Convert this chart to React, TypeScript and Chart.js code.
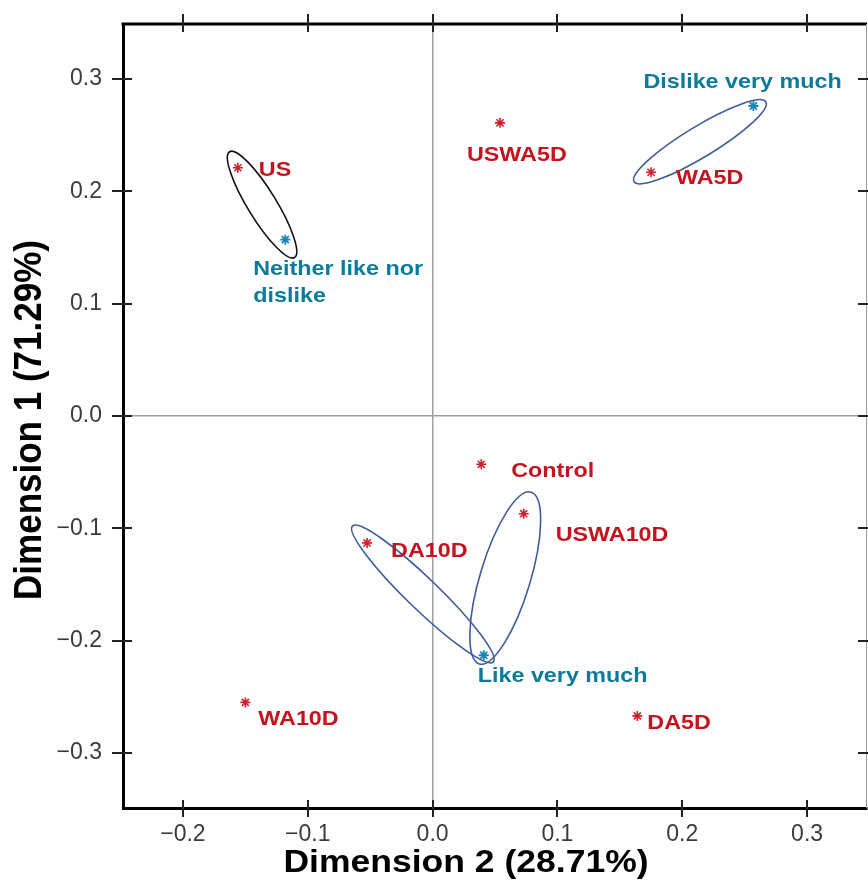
import React, { useEffect, useRef } from 'react';
import { Chart, registerables } from 'chart.js';

Chart.register(...registerables);

// ---- Data ----
const treatmentNames = ['US', 'USWA5D', 'WA5D', 'Control', 'USWA10D', 'DA10D', 'WA10D', 'DA5D'];
const treatmentDim2 = [-0.156, 0.054, 0.175, 0.039, 0.073, -0.0525, -0.150, 0.164];
const treatmentDim1 = [0.221, 0.261, 0.217, -0.043, -0.087, -0.113, -0.255, -0.267];

const likingNames = ['Neither like nor dislike', 'Dislike very much', 'Like very much'];
const likingDim2 = [-0.118, 0.257, 0.041];
const likingDim1 = [0.157, 0.276, -0.213];

// confidence ellipses: end points (Dim2, Dim1) of the major axis and minor/major ratio
const ellipseStartDim2 = [-0.1626, 0.1614, -0.0642, 0.0790];
const ellipseStartDim1 = [0.2353, 0.2086, -0.0980, -0.0678];
const ellipseEndDim2 = [-0.1106, 0.2670, 0.0486, 0.0374];
const ellipseEndDim1 = [0.1411, 0.2797, -0.2189, -0.2207];
const ellipseRatio = [0.23, 0.2, 0.16, 0.28];

const xTickValues = [-0.2, -0.1, 0.0, 0.1, 0.2, 0.3];
const yTickValues = [-0.3, -0.2, -0.1, 0.0, 0.1, 0.2, 0.3];
const xTitle = 'Dimension 2 (28.71%)';
const yTitle = 'Dimension 1 (71.29%)';

// ---- Styles ----
const RED = '#c4121f';
const RED_PT = '#d02030';
const TEAL = '#0b7a9b';
const TEAL_PT = '#1886b0';
const ELLIPSE_COLORS = ['#111111', '#3d5c9c', '#3d5c9c', '#3d5c9c'];
const FONT = "'Liberation Sans', Arial, sans-serif";
const SX = 1.11;

const treatmentOffsets: [number, number][] = [
  [21, 2], [-33, 32], [25, 6], [30, 7], [32, 21], [24, 8], [13, 17], [10, 7],
];
const likingOffsets: [number, number][] = [[-32, 30], [-110, -24], [-6, 21]];
const wrapped: Record<string, string[]> = {
  'Neither like nor dislike': ['Neither like nor', 'dislike'],
};

function drawText(ctx: CanvasRenderingContext2D, text: string, x: number, y: number, font: string, color: string, align: CanvasTextAlign) {
  ctx.save();
  ctx.translate(x, y);
  ctx.scale(SX, 1);
  ctx.font = font;
  ctx.fillStyle = color;
  ctx.textAlign = align;
  ctx.textBaseline = 'middle';
  ctx.fillText(text, 0, 0);
  ctx.restore();
}

const zeroPad = (s: any) => {
  s.paddingTop = 0;
  s.paddingBottom = 0;
  s.paddingLeft = 0;
  s.paddingRight = 0;
};

const decorPlugin = {
  id: 'decor',
  beforeDatasetsDraw(chart: any) {
    const { ctx, scales } = chart;
    const xs = scales.x, ys = scales.y;
    ctx.save();
    for (let i = 0; i < ellipseRatio.length; i++) {
      const x1 = xs.getPixelForValue(ellipseStartDim2[i]);
      const y1 = ys.getPixelForValue(ellipseStartDim1[i]);
      const x2 = xs.getPixelForValue(ellipseEndDim2[i]);
      const y2 = ys.getPixelForValue(ellipseEndDim1[i]);
      const cx = (x1 + x2) / 2, cy = (y1 + y2) / 2;
      const a = Math.hypot(x2 - x1, y2 - y1) / 2;
      const b = a * ellipseRatio[i];
      const ang = Math.atan2(y2 - y1, x2 - x1);
      ctx.beginPath();
      ctx.ellipse(cx, cy, a, b, ang, 0, Math.PI * 2);
      ctx.strokeStyle = ELLIPSE_COLORS[i];
      ctx.lineWidth = 1.6;
      ctx.stroke();
    }
    ctx.restore();
  },
  afterDraw(chart: any) {
    const { ctx, chartArea, scales } = chart;
    const { left, right, top, bottom } = chartArea;
    const xs = scales.x, ys = scales.y;
    ctx.save();
    // top frame
    ctx.strokeStyle = '#000';
    ctx.lineWidth = 3;
    ctx.beginPath();
    ctx.moveTo(left - 1.5, top);
    ctx.lineTo(right, top);
    ctx.stroke();
    // right frame
    ctx.strokeStyle = '#9a9a9a';
    ctx.lineWidth = 1;
    ctx.beginPath();
    ctx.moveTo(right - 0.5, top);
    ctx.lineTo(right - 0.5, bottom);
    ctx.stroke();
    // crossing tick marks
    ctx.strokeStyle = '#222';
    ctx.lineWidth = 2;
    for (const v of xTickValues) {
      const px = Math.round(xs.getPixelForValue(v));
      ctx.beginPath();
      ctx.moveTo(px, bottom - 8); ctx.lineTo(px, bottom + 9);
      ctx.moveTo(px, top - 10); ctx.lineTo(px, top + 8);
      ctx.stroke();
    }
    for (const v of yTickValues) {
      const py = Math.round(ys.getPixelForValue(v));
      ctx.beginPath();
      ctx.moveTo(left - 11, py); ctx.lineTo(left + 9, py);
      ctx.moveTo(right - 9, py); ctx.lineTo(right + 9, py);
      ctx.stroke();
    }
    ctx.restore();

    // point labels
    const labelFont = `bold 21px ${FONT}`;
    const m0 = chart.getDatasetMeta(0);
    treatmentNames.forEach((name, i) => {
      const el = m0.data[i];
      const [dx, dy] = treatmentOffsets[i];
      drawText(ctx, name, el.x + dx, el.y + dy, labelFont, RED, 'left');
    });
    const m1 = chart.getDatasetMeta(1);
    likingNames.forEach((name, i) => {
      const el = m1.data[i];
      const [dx, dy] = likingOffsets[i];
      const lines = wrapped[name] || [name];
      lines.forEach((ln, k) => {
        drawText(ctx, ln, el.x + dx, el.y + dy + k * 27, labelFont, TEAL, 'left');
      });
    });

    // axis titles
    drawText(ctx, xTitle, 466, 863, `bold 32px ${FONT}`, '#000', 'center');
    ctx.save();
    ctx.translate(30, 420);
    ctx.scale(SX, 1);
    ctx.rotate(-Math.PI / 2);
    ctx.font = `bold 35px ${FONT}`;
    ctx.fillStyle = '#000';
    ctx.textAlign = 'center';
    ctx.textBaseline = 'middle';
    ctx.fillText(yTitle, 0, 0);
    ctx.restore();
  },
};

const fmt = (v: number) => {
  const s = Math.abs(v) < 1e-9 ? '0.0' : Math.abs(v).toFixed(1);
  return v < -1e-9 ? '\u2212' + s : s;
};

export default function App() {
  const ref = useRef<HTMLCanvasElement>(null);
  useEffect(() => {
    const chart = new Chart(ref.current!, {
      type: 'scatter',
      data: {
        datasets: [
          {
            label: 'Treatments',
            data: treatmentDim2.map((x, i) => ({ x, y: treatmentDim1[i] })),
            pointStyle: 'star',
            radius: 5,
            borderColor: RED_PT,
            backgroundColor: RED_PT,
            borderWidth: 1.6,
          },
          {
            label: 'Liking',
            data: likingDim2.map((x, i) => ({ x, y: likingDim1[i] })),
            pointStyle: 'star',
            radius: 5,
            borderColor: TEAL_PT,
            backgroundColor: TEAL_PT,
            borderWidth: 1.8,
          },
        ],
      },
      options: {
        responsive: false,
        animation: false,
        devicePixelRatio: 1,
        layout: { autoPadding: false, padding: { top: 24, right: 1, left: 0, bottom: 0 } },
        plugins: { legend: { display: false }, tooltip: { enabled: false } },
        scales: {
          x: {
            type: 'linear',
            min: -0.248,
            max: 0.348,
            afterBuildTicks: (s: any) => { s.ticks = xTickValues.map((value) => ({ value })); },
            afterFit: (s: any) => { s.height = 74; zeroPad(s); },
            ticks: {
              callback: (v: any) => fmt(Number(v)),
              font: { family: FONT, size: 23 },
              color: '#3b3b3b',
              padding: 13,
              maxRotation: 0,
              autoSkip: false,
            },
            grid: {
              color: (c: any) => (c.tick && Math.abs(c.tick.value) < 1e-9 ? '#a0a0a0' : 'rgba(0,0,0,0)'),
              lineWidth: 1.5,
              drawTicks: false,
            },
            border: { display: true, color: '#000', width: 3 },
            title: { display: false },
          },
          y: {
            type: 'linear',
            min: -0.349,
            max: 0.349,
            afterBuildTicks: (s: any) => { s.ticks = yTickValues.map((value) => ({ value })); },
            afterFit: (s: any) => { s.width = 123; zeroPad(s); },
            ticks: {
              callback: (v: any) => fmt(Number(v)),
              font: { family: FONT, size: 23 },
              color: '#3b3b3b',
              padding: 21,
              autoSkip: false,
            },
            grid: {
              color: (c: any) => (c.tick && Math.abs(c.tick.value) < 1e-9 ? '#a0a0a0' : 'rgba(0,0,0,0)'),
              lineWidth: 1.5,
              drawTicks: false,
            },
            border: { display: true, color: '#000', width: 3 },
            title: { display: false },
          },
        },
      },
      plugins: [decorPlugin],
    } as any);
    return () => chart.destroy();
  }, []);
  return (
    <div style={{ position: 'fixed', left: 0, top: 0, width: 868, height: 882, background: '#fff' }}>
      <canvas ref={ref} width={868} height={882} style={{ display: 'block' }} />
    </div>
  );
}
